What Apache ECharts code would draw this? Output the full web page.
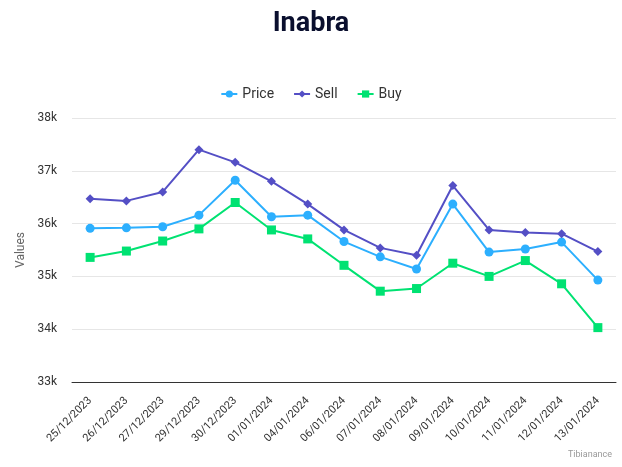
<!DOCTYPE html>
<html><head><meta charset="utf-8">
<script src="https://cdn.jsdelivr.net/npm/echarts@6/dist/echarts.min.js"></script>
<style>html,body{margin:0;padding:0;background:#fff}#c{width:622px;height:467px}</style>
</head><body><div id="c"></div>
<script>
const categories = ["25/12/2023","26/12/2023","27/12/2023","29/12/2023","30/12/2023","01/01/2024","04/01/2024","06/01/2024","07/01/2024","08/01/2024","09/01/2024","10/01/2024","11/01/2024","12/01/2024","13/01/2024"];
const priceValues = [35910,35920,35940,36160,36820,36130,36160,35660,35370,35140,36370,35460,35520,35650,34930];
const sellValues = [36470,36430,36600,37400,37160,36800,36370,35880,35540,35400,36720,35880,35830,35810,35470];
const buyValues = [35360,35480,35670,35900,36400,35880,35710,35210,34720,34770,35250,35000,35300,34860,34030];
const chart = echarts.init(document.getElementById('c'));
chart.setOption({
  animation: false,
  title: [{text: 'Inabra', left: 'center', top: 6, textStyle: {fontFamily: 'Roboto', fontSize: 27, fontWeight: 'bold', color: '#0a0f2e'}},
          {text: 'Tibianance', right: 5, bottom: 3, textStyle: {fontFamily: 'Roboto', fontSize: 9, fontWeight: 'normal', color: '#999'}}],
  legend: {top: 82, left: 'center', itemGap: 19, itemWidth: 16, itemHeight: 9,
    textStyle: {fontFamily: 'Roboto', fontSize: 14, color: '#333'},
    data: ['Price','Sell','Buy']},
  grid: {left: 72, right: 6, top: 118, bottom: 85},
  xAxis: {type: 'category', data: categories, boundaryGap: true,
    axisLine: {lineStyle: {color: '#333', width: 1}}, axisTick: {show: false},
    axisLabel: {rotate: 45, fontFamily: 'Roboto', fontSize: 11, color: '#333', interval: 0, margin: 17}},
  yAxis: {type: 'value', min: 33000, max: 38000, interval: 1000, name: 'Values', nameLocation: 'middle', nameGap: 45,
    nameTextStyle: {fontFamily: 'Roboto', fontSize: 12, color: '#666'},
    axisLabel: {fontFamily: 'Roboto', fontSize: 12, color: '#333', formatter: v => (v/1000) + 'k', margin: 15},
    splitLine: {lineStyle: {color: '#e6e6e6'}}, axisLine: {show: false}, axisTick: {show: false}},
  series: [
    {name: 'Price', type: 'line', data: priceValues, symbol: 'circle', symbolSize: 9, color: '#2caffe', lineStyle: {width: 2}},
    {name: 'Sell', type: 'line', data: sellValues, symbol: 'diamond', symbolSize: 9, color: '#544fc5', lineStyle: {width: 2}},
    {name: 'Buy', type: 'line', data: buyValues, symbol: 'rect', symbolSize: 9, color: '#00e272', lineStyle: {width: 2}}
  ]
});
</script></body></html>
